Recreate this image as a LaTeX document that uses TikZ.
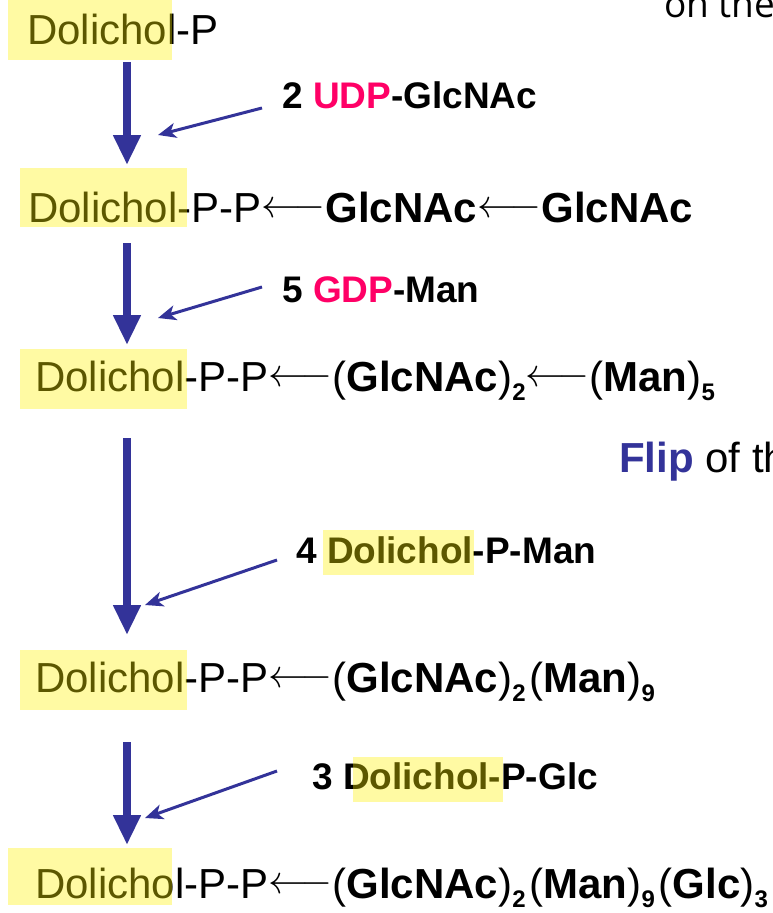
\documentclass[tikz,border=0pt]{standalone}
\usepackage{fontspec}
\setmainfont{Liberation Sans}
\newfontfamily\opensans{Open Sans}
\usetikzlibrary{arrows.meta}
\definecolor{arrowblue}{HTML}{333399}
\definecolor{udppink}{HTML}{FF0066}
\newcommand{\larr}{\raisebox{5pt}{\resizebox{64pt}{!}{$\longleftarrow$}}}
\newcommand{\subn}[1]{\raisebox{-9pt}{\fontsize{24}{24}\selectfont\bfseries #1}}
\newcommand{\gap}{\hspace{4pt}}
\tikzset{
  mainline/.style={anchor=base west, inner sep=0pt, font=\fontsize{42}{42}\selectfont},
  sidelabel/.style={anchor=base west, inner sep=0pt, font=\fontsize{37}{37}\selectfont\bfseries},
  hl/.style={fill=yellow, fill opacity=0.36, draw=none},
  mainarrow/.style={draw=arrowblue, line width=8pt, -{Triangle[width=26pt,length=30pt]}},
  sidearrow/.style={draw=arrowblue, line width=3pt, -{Stealth[width=15pt,length=18pt,inset=5pt]}},
}
\begin{document}
\begin{tikzpicture}[x=1pt,y=-1pt]
\useasboundingbox (0,0) rectangle (773,913);
\clip (0,0) rectangle (773,913);
% main lines
\node[mainline] (l1) at (27,44) {Dolichol-P};
\node[mainline] (l2) at (28,222) {Dolichol-P-P\larr\textbf{GlcNAc}\larr\textbf{GlcNAc}};
\node[mainline] (l3) at (35,391) {Dolichol-P-P\larr(\textbf{GlcNAc})\subn{2}\larr(\textbf{Man})\subn{5}};
\node[mainline] (l4) at (35,692) {Dolichol-P-P\larr(\textbf{GlcNAc})\subn{2}\gap(\textbf{Man})\subn{9}};
\node[mainline] (l5) at (35,898) {Dolichol-P-P\larr(\textbf{GlcNAc})\subn{2}\gap(\textbf{Man})\subn{9}\gap(\textbf{Glc})\subn{3}};
% side labels
\node[sidelabel] (s1) at (282,108) {2 \textcolor{udppink}{UDP}-GlcNAc};
\node[sidelabel] (s2) at (282,302) {5 \textcolor{udppink}{GDP}-Man};
\node[sidelabel] (s3) at (296,563) {4 Dolichol-P-Man};
\node[sidelabel] (s4) at (312,789) {3 Dolichol-P-Glc};
\node[anchor=base west, inner sep=0pt, font=\fontsize{42}{42}\selectfont] (flip) at (619,472) {\textbf{\textcolor{arrowblue}{Flip}} of the};
\node[anchor=base west, inner sep=0pt, font=\opensans\fontsize{37}{37}\selectfont] (onthe) at (664,17) {on the};
% highlights
\fill[hl] (8,0) rectangle (172,60);
\fill[hl] (20,168) rectangle (187,227);
\fill[hl] (20,349) rectangle (187,409);
\fill[hl] (20,650) rectangle (187,710);
\fill[hl] (8,848) rectangle (172,905);
\fill[hl] (323,530) rectangle (474,575);
\fill[hl] (353,757) rectangle (503,802);
% arrow coordinates
\coordinate (v1a) at (127,62);  \coordinate (v1b) at (127,165);
\coordinate (v2a) at (127,243); \coordinate (v2b) at (127,345);
\coordinate (v3a) at (127,438); \coordinate (v3b) at (127,635);
\coordinate (v4a) at (127,742); \coordinate (v4b) at (127,845);
\coordinate (d1a) at (262,108); \coordinate (d1b) at (158,135);
\coordinate (d2a) at (262,287); \coordinate (d2b) at (158,318);
\coordinate (d3a) at (277,560); \coordinate (d3b) at (145,605);
\coordinate (d4a) at (277,771); \coordinate (d4b) at (145,818);
\draw[mainarrow] (v1a) -- (v1b);
\draw[mainarrow] (v2a) -- (v2b);
\draw[mainarrow] (v3a) -- (v3b);
\draw[mainarrow] (v4a) -- (v4b);
\draw[sidearrow] (d1a) -- (d1b);
\draw[sidearrow] (d2a) -- (d2b);
\draw[sidearrow] (d3a) -- (d3b);
\draw[sidearrow] (d4a) -- (d4b);
\end{tikzpicture}
\end{document}
